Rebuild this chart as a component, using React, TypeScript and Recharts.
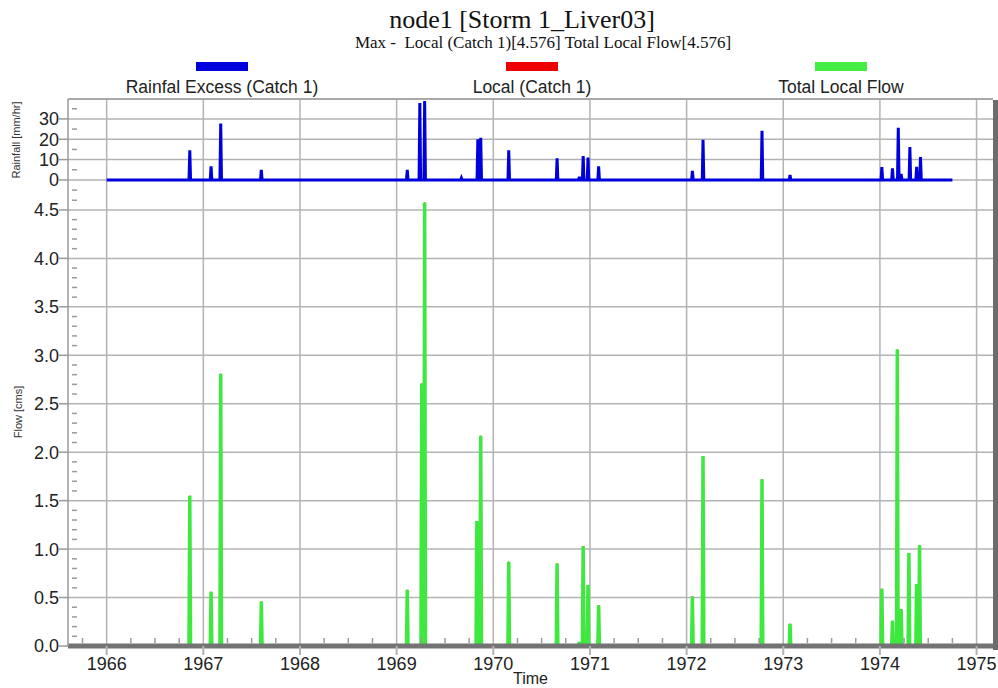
import React from 'react';
import { LineChart, Line, XAxis, YAxis, CartesianGrid } from 'recharts';

// ---- data ----
const rainTimes = [1966.86, 1967.08, 1967.18, 1967.6, 1969.11, 1969.24, 1969.29, 1969.67, 1969.84, 1969.87, 1970.16, 1970.66, 1970.89, 1970.93, 1970.98, 1971.09, 1972.06, 1972.17, 1972.78, 1973.07, 1974.02, 1974.13, 1974.19, 1974.22, 1974.31, 1974.38, 1974.42];
const rainValues = [14.6, 6.7, 27.8, 5, 5, 37.8, 38.8, 1, 20, 20.7, 14.6, 10.7, 1.5, 11.7, 11, 6.7, 4.5, 19.7, 24.2, 2.5, 6.3, 5.7, 25.7, 3, 16.2, 6.5, 11.3];
const rainStart = 1966.0;
const rainEnd = 1974.75;

const flowTimes = [1966.86, 1967.08, 1967.18, 1967.6, 1969.11, 1969.26, 1969.29, 1969.83, 1969.87, 1970.16, 1970.66, 1970.89, 1970.93, 1970.98, 1971.09, 1972.06, 1972.17, 1972.78, 1973.07, 1974.02, 1974.13, 1974.18, 1974.22, 1974.3, 1974.38, 1974.41];
const flowValues = [1.55, 0.56, 2.81, 0.46, 0.58, 2.71, 4.576, 1.29, 2.17, 0.87, 0.85, 0.04, 1.03, 0.63, 0.42, 0.51, 1.96, 1.72, 0.23, 0.59, 0.26, 3.06, 0.38, 0.96, 0.64, 1.04];

const yearTicks = [1966, 1967, 1968, 1969, 1970, 1971, 1972, 1973, 1974, 1975];
const quarterTicks = [1965.75, 1966.25, 1966.5, 1966.75, 1967.25, 1967.5, 1967.75, 1968.25, 1968.5, 1968.75, 1969.25, 1969.5, 1969.75, 1970.25, 1970.5, 1970.75, 1971.25, 1971.5, 1971.75, 1972.25, 1972.5, 1972.75, 1973.25, 1973.5, 1973.75, 1974.25, 1974.5, 1974.75];
const flowMajorTicks = [0, 0.5, 1, 1.5, 2, 2.5, 3, 3.5, 4, 4.5];
const flowMinorTicks = [0.1, 0.2, 0.3, 0.4, 0.6, 0.7, 0.8, 0.9, 1.1, 1.2, 1.3, 1.4, 1.6, 1.7, 1.8, 1.9, 2.1, 2.2, 2.3, 2.4, 2.6, 2.7, 2.8, 2.9, 3.1, 3.2, 3.3, 3.4, 3.6, 3.7, 3.8, 3.9, 4.1, 4.2, 4.3, 4.4, 4.6];
const rainMajorTicks = [0, 10, 20, 30];
const rainMinorTicks = [-5, 5, 15, 25, 35];

const xDomain = [1965.6, 1975.17];
const rainDomain = [-7.4, 39.8];
const flowDomain = [0, 4.654];

const SPIKE = 0.008;

const rainData = (() => {
  const pts: { t: number; v: number | null }[] = [{ t: rainStart, v: 0 }];
  rainTimes.forEach((t, i) => {
    pts.push({ t: t - SPIKE, v: 0 }, { t, v: rainValues[i] }, { t: t + SPIKE, v: 0 });
  });
  pts.push({ t: rainEnd, v: 0 });
  return pts;
})();

const flowData = (() => {
  const pts: { t: number; v: number | null }[] = [];
  flowTimes.forEach((t, i) => {
    pts.push({ t: t - SPIKE, v: 0 }, { t, v: flowValues[i] }, { t: t + SPIKE, v: 0 }, { t: t + SPIKE * 1.5, v: null });
  });
  return pts;
})();

const GRID = '#b3b3b3';
const AXIS = '#9a9a9a';
const TEXT = '#222';

const makeYTick = (majors: number[], fmt: (v: number) => string) => (props: any) => {
  const { x, y, payload } = props;
  const v = payload.value;
  const axisX = x + 10;
  if (majors.some((m) => Math.abs(m - v) < 1e-6)) {
    return (
      <g>
        <line x1={axisX - 9} x2={axisX} y1={y} y2={y} stroke={AXIS} strokeWidth={1.5} />
        <text x={axisX - 9} y={y} dy="0.36em" textAnchor="end" fontSize={18} fill={TEXT}>
          {fmt(v)}
        </text>
      </g>
    );
  }
  return <line x1={axisX + 4} x2={axisX + 9} y1={y} y2={y} stroke={AXIS} strokeWidth={1.5} />;
};

const XTick = (props: any) => {
  const { x, y, payload } = props;
  const v = payload.value;
  const axisY = y - 10;
  if (Number.isInteger(v)) {
    return (
      <g>
        <line x1={x} x2={x} y1={axisY} y2={axisY + 9} stroke={GRID} strokeWidth={2} />
        <text x={x} y={axisY + 10} dy="0.75em" textAnchor="middle" fontSize={18} fill={TEXT}>
          {v}
        </text>
      </g>
    );
  }
  return <line x1={x} x2={x} y1={axisY - 3} y2={axisY - 8} stroke={AXIS} strokeWidth={1.5} />;
};

const RainTick = makeYTick(rainMajorTicks, (v) => String(v));
const FlowTick = makeYTick(flowMajorTicks, (v) => v.toFixed(1));

const legendItems = [
  { label: 'Rainfal Excess (Catch 1)', color: '#0000dd', cx: 222 },
  { label: 'Local (Catch 1)', color: '#ee0000', cx: 532 },
  { label: 'Total Local Flow', color: '#44ee44', cx: 841 },
];

export default function App() {
  return (
    <div
      style={{
        position: 'absolute',
        left: 0,
        top: 0,
        width: 998,
        height: 688,
        background: '#fff',
        fontFamily: '"Liberation Sans", Arial, sans-serif',
        overflow: 'hidden',
      }}
    >
      <div style={{ position: 'absolute', left: 0, width: 1044, top: 6, textAlign: 'center', fontFamily: '"Liberation Serif", serif', fontSize: 26, lineHeight: '28px', color: '#111' }}>
        node1 [Storm 1_Liver03]
      </div>
      <div style={{ position: 'absolute', left: 0, width: 1086, top: 33, textAlign: 'center', fontFamily: '"Liberation Serif", serif', fontSize: 17, lineHeight: '19px', color: '#111', whiteSpace: 'pre' }}>
        {'Max -  Local (Catch 1)[4.576] Total Local Flow[4.576]'}
      </div>
      {legendItems.map((it) => (
        <React.Fragment key={it.label}>
          <div style={{ position: 'absolute', left: it.cx - 26, top: 62, width: 52, height: 9, background: it.color }} />
          <div style={{ position: 'absolute', left: it.cx - 150, width: 300, top: 77, textAlign: 'center', fontSize: 17.5, lineHeight: '20px', color: TEXT }}>
            {it.label}
          </div>
        </React.Fragment>
      ))}

      <div style={{ position: 'absolute', left: 16, top: 140, width: 0, height: 0 }}>
        <div style={{ position: 'absolute', left: -60, top: -7, width: 120, textAlign: 'center', fontSize: 11, lineHeight: '14px', color: '#333', transform: 'rotate(-90deg)', transformOrigin: '60px 7px' }}>
          Rainfall [mm/hr]
        </div>
      </div>
      <div style={{ position: 'absolute', left: 18, top: 412, width: 0, height: 0 }}>
        <div style={{ position: 'absolute', left: -60, top: -7, width: 120, textAlign: 'center', fontSize: 11, lineHeight: '14px', color: '#333', transform: 'rotate(-90deg)', transformOrigin: '60px 7px' }}>
          Flow [cms]
        </div>
      </div>

      {/* rainfall panel */}
      <div style={{ position: 'absolute', left: 0, top: 90 }}>
        <LineChart width={998} height={105} data={rainData} margin={{ top: 9, right: 5, bottom: 0, left: 8 }}>
          <CartesianGrid stroke={GRID} strokeWidth={1.5} verticalValues={yearTicks} horizontalValues={rainMajorTicks} />
          <XAxis dataKey="t" type="number" domain={xDomain} allowDataOverflow hide />
          <YAxis
            type="number"
            domain={rainDomain}
            allowDataOverflow
            ticks={[...rainMajorTicks, ...rainMinorTicks]}
            interval={0}
            width={60}
            tickSize={8}
            tickMargin={2}
            tickLine={false}
            axisLine={{ stroke: AXIS, strokeWidth: 1.5 }}
            tick={RainTick}
          />
          <Line type="linear" dataKey="v" stroke="#0000dd" strokeWidth={3} dot={false} isAnimationActive={false} />
        </LineChart>
      </div>

      {/* flow panel */}
      <div style={{ position: 'absolute', left: 0, top: 195 }}>
        <LineChart width={998} height={493} data={flowData} margin={{ top: 0, right: 5, bottom: 0, left: 8 }}>
          <CartesianGrid stroke={GRID} strokeWidth={1.5} verticalValues={yearTicks} horizontalValues={flowMajorTicks} />
          <XAxis
            dataKey="t"
            type="number"
            domain={xDomain}
            allowDataOverflow
            ticks={[...yearTicks, ...quarterTicks]}
            interval={0}
            height={42}
            tickSize={6}
            tickMargin={4}
            tickLine={false}
            axisLine={{ stroke: '#737373', strokeWidth: 5 }}
            tick={XTick}
            label={{ value: 'Time', position: 'insideBottom', offset: 4, fontSize: 16, fill: TEXT }}
          />
          <YAxis
            type="number"
            domain={flowDomain}
            allowDataOverflow
            ticks={[...flowMajorTicks, ...flowMinorTicks]}
            interval={0}
            width={60}
            tickSize={8}
            tickMargin={2}
            tickLine={false}
            axisLine={{ stroke: AXIS, strokeWidth: 1.5 }}
            tick={FlowTick}
          />
          <Line type="linear" dataKey="v" stroke="#ee0000" strokeWidth={1.5} dot={false} connectNulls={false} isAnimationActive={false} />
          <Line type="linear" dataKey="v" stroke="#3ee83e" strokeWidth={3.5} dot={false} connectNulls={false} isAnimationActive={false} />
        </LineChart>
      </div>

      {/* frame decorations */}
      <div style={{ position: 'absolute', left: 68, top: 98, width: 925, height: 2, background: '#a8a8a8' }} />
      <div style={{ position: 'absolute', left: 993, top: 100, width: 5, height: 550, background: '#6c6c6c' }} />
    </div>
  );
}
